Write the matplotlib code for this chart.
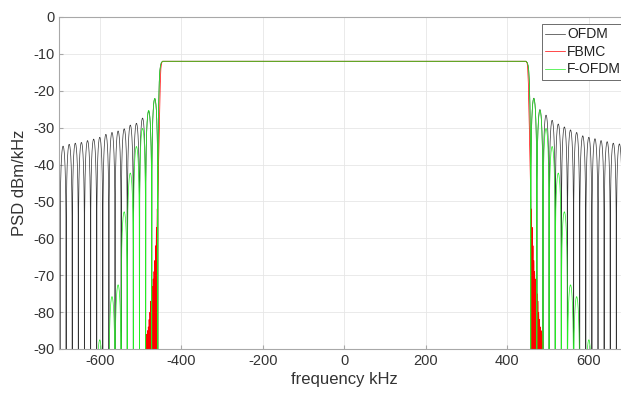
import numpy as np
import matplotlib
matplotlib.use('Agg')
import matplotlib.pyplot as plt

plt.rcParams['font.family'] = ['Liberation Sans', 'DejaVu Sans']
plt.rcParams['axes.unicode_minus'] = False

# sidelobe peaks (kHz, dBm/kHz)
ofdm_left_f = [-705, -690, -675, -660, -645, -630, -615, -600, -585, -570,
               -555, -540, -525, -510, -495, -480, -465]
ofdm_left_db = [-35.2, -35.0, -34.5, -34.2, -34.0, -33.5, -33.1, -32.6, -31.8, -31.3,
                -30.9, -30.3, -29.3, -28.8, -27.4, -25.5, -22.1]
ofdm_right_f = [465, 480, 495, 510, 525, 540, 555, 570, 585, 600, 615, 630, 645, 660, 675, 690]
ofdm_right_db = [-22.0, -25.1, -26.6, -28.0, -29.0, -29.8, -30.6, -31.3, -32.2, -32.6,
                 -33.0, -33.5, -33.8, -34.2, -34.4, -34.8]

# F-OFDM lobes, same on both sides (distance from centre)
fofdm_f = [465, 480, 495, 510, 525, 540, 555, 570, 600]
fofdm_db = [-22.1, -25.3, -30.2, -35.1, -42.3, -52.8, -72.6, -75.8, -87.5]

# FBMC: dense narrow lobes just outside the band
fbmc_f = [459, 461, 463, 465, 467, 469, 471, 473, 475, 477, 479, 481, 483, 485, 487]
fbmc_db = [-52, -57, -62, -66, -69, -71, -73, -75, -77, -80, -82, -84, -85, -86, -88]

# band edge (positive side), OFDM / F-OFDM and FBMC
edge_f = [446, 449, 451, 452.5, 454, 455.5, 456.5, 457.2, 457.5]
edge_db = [-12.0, -12.4, -13.2, -14.5, -17.5, -24, -33, -50, -130]
fbmc_edge_f = [446, 448.5, 450, 451.5, 453, 454.5, 456, 457.5, 458]
fbmc_edge_db = [-12.0, -12.5, -14, -18, -25, -33, -42, -50, -130]


def lobes(centres, peaks, width, n=30):
    f, y = [], []
    for c, p in zip(centres, peaks):
        u = np.linspace(-0.5, 0.5, n)
        f.append(c + u * width)
        y.append(p + 20 * np.log10(np.maximum(np.cos(np.pi * u), 1e-6)))
    return np.concatenate(f), np.concatenate(y)


def spectrum(lf, ldb, rf, rdb, width, ef, edb):
    a_f, a_y = lobes(lf, ldb, width)
    b_f, b_y = lobes(rf, rdb, width)
    ef = np.array(ef)
    edb = np.array(edb)
    f = np.concatenate([a_f, -ef[::-1], ef, b_f])
    y = np.concatenate([a_y, edb[::-1], edb, b_y])
    return f, y


f1, y1 = spectrum(ofdm_left_f, ofdm_left_db, ofdm_right_f, ofdm_right_db, 15, edge_f, edge_db)
f2, y2 = spectrum([-x for x in fbmc_f[::-1]], fbmc_db[::-1], fbmc_f, fbmc_db, 2, fbmc_edge_f, fbmc_edge_db)
f3, y3 = spectrum([-x for x in fofdm_f[::-1]], fofdm_db[::-1], fofdm_f, fofdm_db, 15, edge_f, edge_db)

fig = plt.figure(figsize=(6.21, 3.97), dpi=100)
ax = fig.add_axes([59 / 621, 48 / 397, 570.6 / 621, 332 / 397])

ax.plot(f1, y1, color='#333333', lw=0.5, label='OFDM')
ax.plot(f2, y2, color='r', lw=0.5, label='FBMC')
ax.plot(f3, y3, color='#22ee22', lw=0.5, label='F-OFDM')

ax.set_xlim(-700, 700)
ax.set_ylim(-90, 0)
ax.set_xticks(np.arange(-600, 601, 200))
ax.set_yticks(np.arange(-90, 1, 10))
ax.grid(True, color='#e6e6e6', lw=0.6)
ax.set_axisbelow(True)
for s in ax.spines.values():
    s.set_color('#a8a8a8')
    s.set_linewidth(0.8)
ax.tick_params(direction='in', length=3, color='#a8a8a8', labelcolor='#333333', labelsize=10.5)
ax.set_xlabel('frequency kHz', fontsize=12, color='#333333', labelpad=3)
ax.set_ylabel('PSD dBm/kHz', fontsize=12, color='#333333', labelpad=4)

leg = ax.legend(loc='upper left', bbox_to_anchor=(542 / 621, 1 - 24 / 397),
                bbox_transform=fig.transFigure, borderaxespad=0, fontsize=10,
                fancybox=False, framealpha=1, edgecolor='#555555',
                handlelength=1.4, handletextpad=0.15, borderpad=0.25, labelspacing=0.25)
leg.get_frame().set_linewidth(0.6)
for t in leg.get_texts():
    t.set_color('#222222')

fig.savefig('out.png', dpi=100)
